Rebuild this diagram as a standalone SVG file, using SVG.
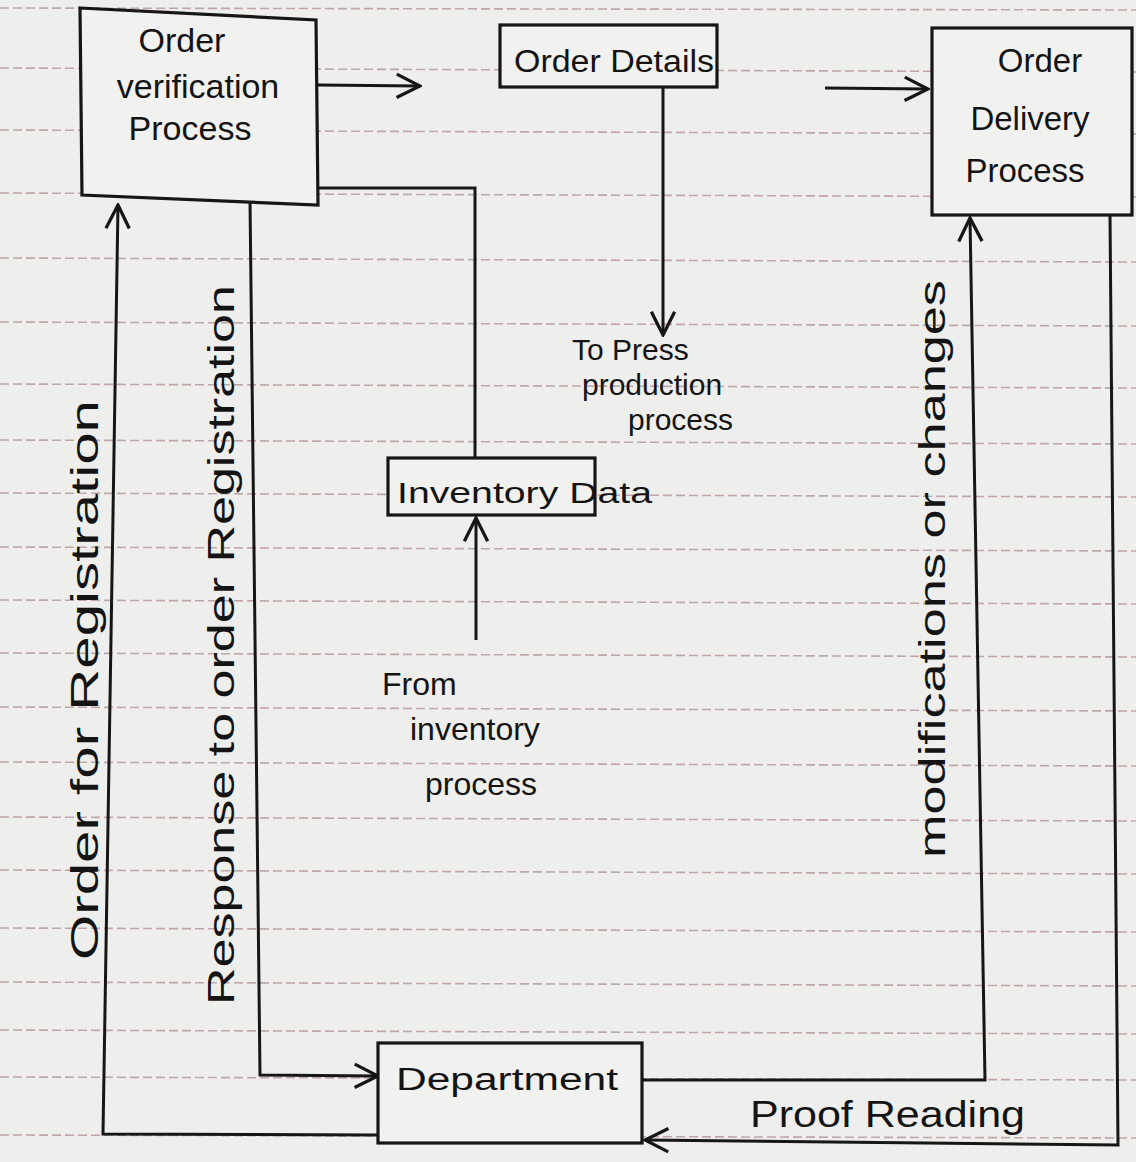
<svg xmlns="http://www.w3.org/2000/svg" width="1136" height="1162" viewBox="0 0 1136 1162">
<defs>
<style>
.paper{fill:#eeeeec}
.rule{stroke:#bfa6a8;stroke-width:1.6;stroke-dasharray:9 4;fill:none}
.box{fill:#f1f1ef;stroke:#161616;stroke-width:3.2}
.wire{fill:none;stroke:#161616;stroke-width:3}
.t{font-family:"Liberation Sans","DejaVu Sans",sans-serif;fill:#141414}
</style>
<marker id="arr" viewBox="0 0 12 12" refX="11" refY="6" markerWidth="28" markerHeight="28" markerUnits="userSpaceOnUse" orient="auto">
<path d="M1,1 L11,6 L1,11" fill="none" stroke="#161616" stroke-width="1.4"/>
</marker>
</defs>
<rect class="paper" x="0" y="0" width="1136" height="1162"/>
<g id="rules">
<line class="rule" x1="0" y1="8" x2="1136" y2="10"/>
<line class="rule" x1="0" y1="68" x2="1136" y2="72"/>
<line class="rule" x1="0" y1="130" x2="1136" y2="134"/>
<line class="rule" x1="0" y1="193" x2="1136" y2="197"/>
<line class="rule" x1="0" y1="258" x2="1136" y2="262"/>
<line class="rule" x1="0" y1="322" x2="1136" y2="326"/>
<line class="rule" x1="0" y1="384" x2="1136" y2="388"/>
<line class="rule" x1="0" y1="440" x2="1136" y2="444"/>
<line class="rule" x1="0" y1="493" x2="1136" y2="497"/>
<line class="rule" x1="0" y1="547" x2="1136" y2="551"/>
<line class="rule" x1="0" y1="600" x2="1136" y2="604"/>
<line class="rule" x1="0" y1="653" x2="1136" y2="657"/>
<line class="rule" x1="0" y1="707" x2="1136" y2="711"/>
<line class="rule" x1="0" y1="762" x2="1136" y2="766"/>
<line class="rule" x1="0" y1="817" x2="1136" y2="821"/>
<line class="rule" x1="0" y1="870" x2="1136" y2="874"/>
<line class="rule" x1="0" y1="928" x2="1136" y2="932"/>
<line class="rule" x1="0" y1="982" x2="1136" y2="986"/>
<line class="rule" x1="0" y1="1030" x2="1136" y2="1034"/>
<line class="rule" x1="0" y1="1077" x2="1136" y2="1080"/>
<line class="rule" x1="0" y1="1135" x2="1136" y2="1138"/>
</g>
<g id="connectors">
<line class="wire" x1="318" y1="85" x2="420" y2="86" marker-end="url(#arr)"/>
<line class="wire" x1="825" y1="88" x2="928" y2="89" marker-end="url(#arr)"/>
<line class="wire" x1="663" y1="88" x2="663" y2="335" marker-end="url(#arr)"/>
<polyline class="wire" points="318,188 475,188 475,458"/>
<line class="wire" x1="476" y1="640" x2="476" y2="518" marker-end="url(#arr)"/>
<polyline class="wire" points="378,1135 103,1134 118,205" marker-end="url(#arr)"/>
<polyline class="wire" points="250,200 260,1075 378,1076" marker-end="url(#arr)"/>
<polyline class="wire" points="642,1080 985,1080 970,218" marker-end="url(#arr)"/>
<polyline class="wire" points="1110,215 1118,1145 645,1140" marker-end="url(#arr)"/>
</g>
<g id="order-verification">
<path class="box" d="M80,8 L316,20 L318,205 L82,195 Z"/>
<text class="t" font-size="34" text-anchor="middle"><tspan x="182" y="52">Order</tspan><tspan x="198" y="98">verification</tspan><tspan x="190" y="140">Process</tspan></text>
</g>
<g id="order-details">
<rect class="box" x="500" y="25" width="217" height="62"/>
<text class="t" x="514" y="72" font-size="31" textLength="200" lengthAdjust="spacingAndGlyphs">Order Details</text>
</g>
<g id="order-delivery">
<rect class="box" x="932" y="28" width="200" height="187"/>
<text class="t" font-size="33" text-anchor="middle"><tspan x="1040" y="72">Order</tspan><tspan x="1030" y="130">Delivery</tspan><tspan x="1025" y="182">Process</tspan></text>
</g>
<g id="inventory-data">
<rect class="box" x="388" y="458" width="207" height="57"/>
<text class="t" x="397" y="503" font-size="30" textLength="255" lengthAdjust="spacingAndGlyphs">Inventory Data</text>
</g>
<g id="department">
<rect class="box" x="378" y="1043" width="264" height="100"/>
<text class="t" x="396" y="1090" font-size="31" textLength="222" lengthAdjust="spacingAndGlyphs">Department</text>
</g>
<g id="labels">
<text class="t" font-size="30"><tspan x="572" y="360">To Press</tspan><tspan x="582" y="395">production</tspan><tspan x="628" y="430">process</tspan></text>
<text class="t" font-size="32"><tspan x="382" y="695">From</tspan><tspan x="410" y="740">inventory</tspan><tspan x="425" y="795">process</tspan></text>
<text class="t" font-size="38" transform="translate(98,960) rotate(-90)" textLength="560" lengthAdjust="spacingAndGlyphs">Order for Registration</text>
<text class="t" font-size="36" transform="translate(234,1005) rotate(-90)" textLength="720" lengthAdjust="spacingAndGlyphs">Response to order Registration</text>
<text class="t" font-size="36" transform="translate(945,858) rotate(-90)" textLength="578" lengthAdjust="spacingAndGlyphs">modifications or changes</text>
<text class="t" x="750" y="1127" font-size="36" textLength="275" lengthAdjust="spacingAndGlyphs">Proof Reading</text>
</g>
</svg>
